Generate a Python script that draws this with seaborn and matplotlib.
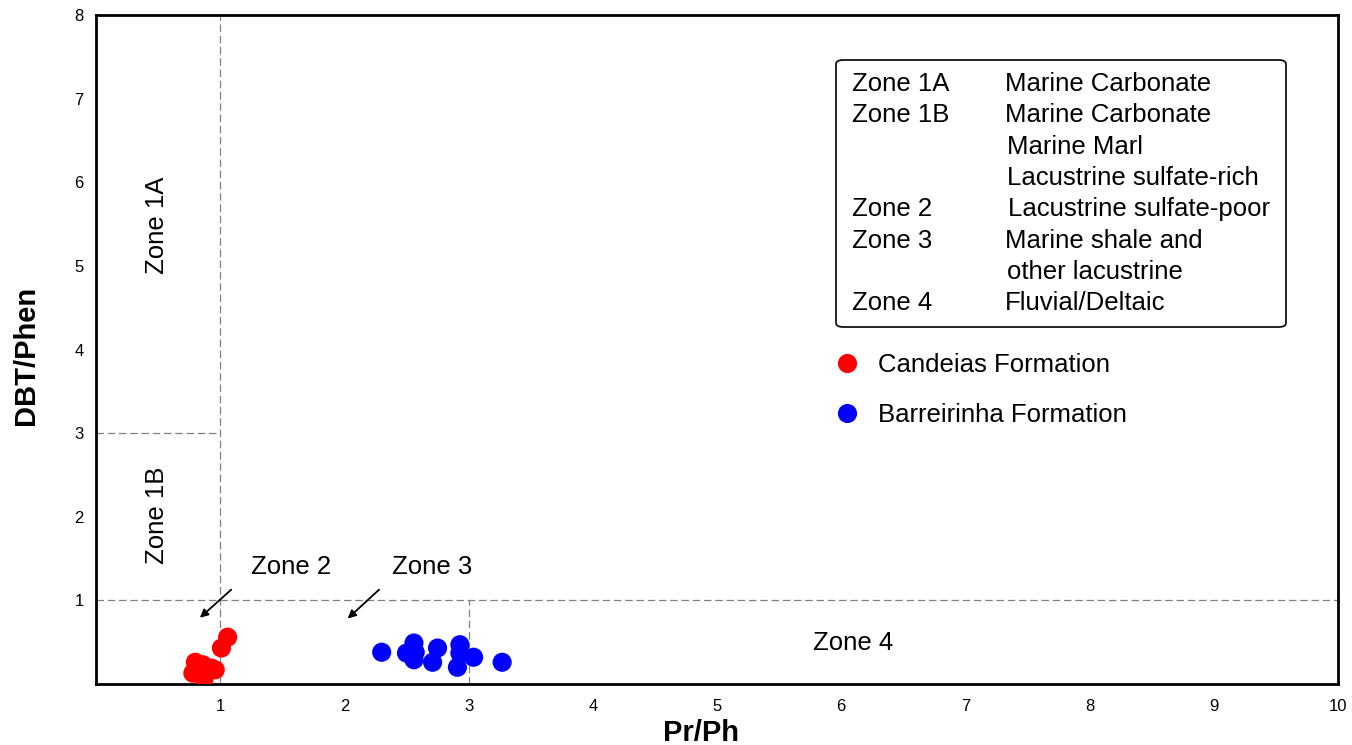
import matplotlib
matplotlib.use("Agg")
import matplotlib.pyplot as plt
import seaborn as sns
import pandas as pd
from matplotlib.patches import FancyBboxPatch

# ---- data ----
candeias_prph = [0.80, 0.86, 0.93, 0.78, 0.86, 0.87, 0.96, 0.84, 1.01, 1.06]
candeias_dbt = [0.26, 0.23, 0.19, 0.13, 0.10, 0.06, 0.17, 0.17, 0.43, 0.56]
barreirinha_prph = [2.30, 2.50, 2.56, 2.56, 2.57, 2.75, 2.71, 2.93, 2.93, 2.91, 3.04, 3.27]
barreirinha_dbt = [0.38, 0.37, 0.49, 0.29, 0.38, 0.43, 0.26, 0.47, 0.37, 0.20, 0.32, 0.26]
formations = ["Candeias Formation", "Barreirinha Formation"]
colors = ["#ff0000", "#0000ff"]
x_ticks = [1, 2, 3, 4, 5, 6, 7, 8, 9, 10]
y_ticks = [1, 2, 3, 4, 5, 6, 7, 8]
zone_names = ["Zone 1A", "Zone 1B", "", "", "Zone 2", "Zone 3", "", "Zone 4"]
zone_desc = ["Marine Carbonate", "Marine Carbonate", "Marine Marl",
             "Lacustrine sulfate-rich", "Lacustrine sulfate-poor",
             "Marine shale and", "other lacustrine", "Fluvial/Deltaic"]

df = pd.DataFrame({
    "Pr/Ph": candeias_prph + barreirinha_prph,
    "DBT/Phen": candeias_dbt + barreirinha_dbt,
    "Formation": [formations[0]] * len(candeias_prph) + [formations[1]] * len(barreirinha_prph),
})

sns.set_theme(style="white")
plt.rcParams["font.family"] = ["Liberation Sans", "DejaVu Sans"]
plt.rcParams["text.color"] = "black"
plt.rcParams["axes.labelcolor"] = "black"
plt.rcParams["xtick.color"] = "black"
plt.rcParams["ytick.color"] = "black"

W, H = 1352, 745
fig = plt.figure(figsize=(W / 100, H / 100), dpi=100)
ax = fig.add_axes([96 / W, 1 - 684 / H, 1242 / W, 669 / H])

def axx(px):
    return (px - 96) / 1242

def axy(py):
    return (684 - py) / 669

# zone boundary lines
dash = dict(color="#808080", lw=0.9, ls=(0, (6, 3)), zorder=1)
ax.plot([1, 1], [0, 8], **dash)
ax.plot([0, 1], [3, 3], **dash)
ax.plot([0, 10], [1, 1], **dash)
ax.plot([3, 3], [0, 1], **dash)

sns.scatterplot(data=df, x="Pr/Ph", y="DBT/Phen", hue="Formation",
                palette=dict(zip(formations, colors)), s=190, edgecolor="none",
                ax=ax, zorder=3)

ax.set_xlim(0, 10)
ax.set_ylim(0, 8)
ax.set_xticks(x_ticks)
ax.set_yticks(y_ticks)
ax.tick_params(axis="both", labelsize=12, length=0, colors="black")
ax.tick_params(axis="x", pad=11)
ax.tick_params(axis="y", pad=9)
ax.set_xlabel("Pr/Ph", fontsize=21, fontweight="bold", va="center", color="black")
ax.set_ylabel("DBT/Phen", fontsize=21, fontweight="bold", va="center", ha="center", color="black")
ax.xaxis.set_label_coords(axx(701), axy(733))
ax.yaxis.set_label_coords(axx(26), axy(355))
for sp in ax.spines.values():
    sp.set_color("black")
    sp.set_linewidth(2)

# zone labels
zfs = 18.5
ax.text(0.49, 5.48, "Zone 1A", rotation=90, ha="center", va="center", fontsize=zfs)
ax.text(0.49, 2.02, "Zone 1B", rotation=90, ha="center", va="center", fontsize=zfs)
ax.text(1.57, 1.40, "Zone 2", ha="center", va="center", fontsize=zfs)
ax.text(2.705, 1.40, "Zone 3", ha="center", va="center", fontsize=zfs)
ax.text(6.10, 0.49, "Zone 4", ha="center", va="center", fontsize=zfs)
arrow = dict(arrowstyle="-|>", color="black", lw=1.3, mutation_scale=12)
ax.annotate("", xy=(0.82, 0.77), xytext=(1.105, 1.15), arrowprops=arrow)
ax.annotate("", xy=(2.01, 0.76), xytext=(2.295, 1.15), arrowprops=arrow)

# zone description box
box = FancyBboxPatch((axx(836), axy(327)), axx(1286) - axx(836), axy(60) - axy(327),
                     boxstyle="round,pad=0,rounding_size=0.006",
                     transform=ax.transAxes, fc="white", ec="black", lw=1.2, zorder=4)
ax.add_patch(box)
desc_x = [1005, 1005, 1007, 1007, 1008, 1005, 1007, 1005]
for i, (zn, zd) in enumerate(zip(zone_names, zone_desc)):
    yy = axy(84 + i * 31.3)
    ax.text(axx(852), yy, zn, transform=ax.transAxes, fontsize=zfs,
            va="center", ha="left", zorder=5)
    ax.text(axx(desc_x[i]), yy, zd, transform=ax.transAxes, fontsize=zfs,
            va="center", ha="left", zorder=5)

leg = ax.legend(loc="upper left", bbox_to_anchor=(axx(834), axy(353)),
                frameon=False, fontsize=zfs, markerscale=1.0, handlelength=1.0,
                handletextpad=0.71, labelspacing=1.02, borderaxespad=0,
                borderpad=0, title=None)
for t in leg.get_texts():
    t.set_color("black")

fig.savefig("out.png", dpi=100)
